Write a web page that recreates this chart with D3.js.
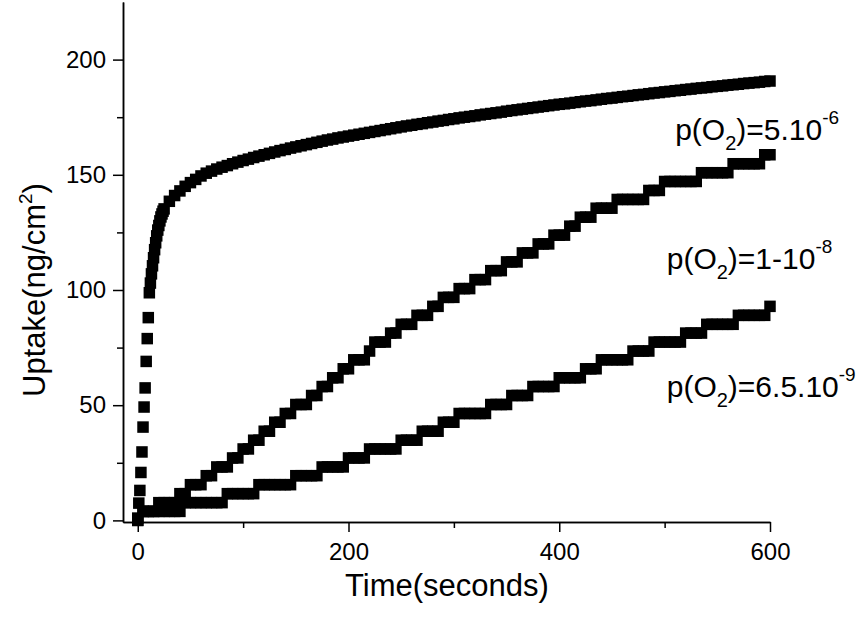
<!DOCTYPE html>
<html>
<head>
<meta charset="utf-8">
<script src="https://cdn.jsdelivr.net/npm/d3@7"></script>
<style>
  body { margin: 0; background: #fff; }
  svg { display: block; }
  text { font-family: "Liberation Sans", Arial, sans-serif; fill: #000; }
</style>
</head>
<body>
<div id="container"></div>
<script>
// time grid of the fast run (seconds)
const time1 = [0,1,2,3,4,5,6,7,8,9,10,11,12,13,14,15,16,17,18,19,20,21,22,23,24,
  25,30,35,40,45,50,55,60,65,70,75,80,85,90,95,100,105,110,115,120,125,130,135,140,145,
  150,155,160,165,170,175,180,185,190,195,200,205,210,215,220,225,230,235,240,245,
  250,255,260,265,270,275,280,285,290,295,300,305,310,315,320,325,330,335,340,345,
  350,355,360,365,370,375,380,385,390,395,400,405,410,415,420,425,430,435,440,445,
  450,455,460,465,470,475,480,485,490,495,500,505,510,515,520,525,530,535,540,545,
  550,555,560,565,570,575,580,585,590,595,600];

// p(O2)=5.10^-6
const uptake1 = [1,7.5,13,20.8,29.7,40.5,49.2,57.5,69,78.9,88,98.8,103,107,110.5,114,117.5,120.5,123.5,126,128,130,131.7,133,134.2,
  135.2,138.5,141,143,145,146.6,148,149.5,150.7,151.6,152.5,153.3,154,154.8,155.5,156.2,156.8,157.5,158.1,158.7,159.3,159.9,160.5,161,161.6,
  162.1,162.6,163.1,163.6,164.1,164.6,165.1,165.5,166,166.4,166.8,167.2,167.6,168,168.4,168.8,169.2,169.6,170,170.4,
  170.8,171.2,171.5,171.9,172.2,172.6,172.9,173.3,173.6,174,174.3,174.7,175,175.3,175.6,176,176.3,176.6,176.9,177.2,
  177.6,177.9,178.2,178.5,178.8,179.1,179.4,179.7,180,180.3,180.6,180.8,181.1,181.4,181.7,182,182.2,182.5,182.8,183.1,
  183.3,183.6,183.9,184.1,184.4,184.7,184.9,185.2,185.5,185.7,186,186.2,186.5,186.7,187,187.2,187.5,187.7,187.9,188.2,
  188.4,188.6,188.9,189.1,189.3,189.6,189.8,190,190.2,190.5,190.7];

// time grid of the two slow runs (seconds)
const time2 = [0,5,10,15,20,25,30,35,40,45,50,55,60,65,70,75,80,85,90,95,
  100,105,110,115,120,125,130,135,140,145,150,155,160,165,170,175,180,185,190,195,
  200,205,210,215,220,225,230,235,240,245,250,255,260,265,270,275,280,285,290,295,
  300,305,310,315,320,325,330,335,340,345,350,355,360,365,370,375,380,385,390,395,
  400,405,410,415,420,425,430,435,440,445,450,455,460,465,470,475,480,485,490,495,
  500,505,510,515,520,525,530,535,540,545,550,555,560,565,570,575,580,585,590,595,600];

// p(O2)=1-10^-8
const uptake2 = [0,3.9,3.9,3.9,7.7,7.7,7.7,7.7,11.6,11.6,
  15.5,15.5,15.5,19.4,19.4,23.2,23.2,23.2,27.1,27.1,
  31.0,31.0,34.8,34.8,38.7,38.7,42.6,42.6,46.4,46.4,
  50.3,50.3,50.3,54.2,54.2,58.1,58.1,61.9,61.9,65.8,
  65.8,69.7,69.7,69.7,73.5,77.4,77.4,77.4,81.3,81.3,
  85.1,85.1,85.1,89.0,89.0,89.0,92.9,92.9,96.8,96.8,
  96.8,100.6,100.6,100.6,104.5,104.5,104.5,108.4,108.4,108.4,
  112.2,112.2,112.2,116.1,116.1,116.1,120.0,120.0,120.0,123.8,
  123.8,123.8,127.7,127.7,131.6,131.6,131.6,135.5,135.5,135.5,
  135.5,139.3,139.3,139.3,139.3,139.3,139.3,143.2,143.2,143.2,
  147.1,147.1,147.1,147.1,147.1,147.1,147.1,150.9,150.9,150.9,
  150.9,150.9,150.9,154.8,154.8,154.8,154.8,154.8,154.8,158.7,
  158.7];

// p(O2)=6.5.10^-9
const uptake3 = [0,3.9,3.9,3.9,3.9,3.9,3.9,3.9,3.9,7.7,
  7.7,7.7,7.7,7.7,7.7,7.7,7.7,11.6,11.6,11.6,
  11.6,11.6,11.6,15.5,15.5,15.5,15.5,15.5,15.5,15.5,
  19.4,19.4,19.4,19.4,19.4,23.2,23.2,23.2,23.2,23.2,
  27.1,27.1,27.1,27.1,31.0,31.0,31.0,31.0,31.0,31.0,
  34.8,34.8,34.8,34.8,38.7,38.7,38.7,38.7,42.6,42.6,
  42.6,46.4,46.4,46.4,46.4,46.4,46.4,50.3,50.3,50.3,
  50.3,54.2,54.2,54.2,54.2,58.1,58.1,58.1,58.1,58.1,
  61.9,61.9,61.9,61.9,61.9,65.8,65.8,65.8,69.7,69.7,
  69.7,69.7,69.7,69.7,73.5,73.5,73.5,73.5,77.4,77.4,
  77.4,77.4,77.4,77.4,81.3,81.3,81.3,81.3,85.1,85.1,
  85.1,85.1,85.1,85.1,89.0,89.0,89.0,89.0,89.0,89.0,
  92.9];

const xMajor = [0, 200, 400, 600];
const xMinor = [100, 300, 500];
const yMajor = [0, 50, 100, 150, 200];
const yMinor = [25, 75, 125, 175];

// label pieces: main text, subscript, main text, superscript
const labelParts = [
  ["p(O", "2", ")=5.10", "-6"],
  ["p(O", "2", ")=1-10", "-8"],
  ["p(O", "2", ")=6.5.10", "-9"]
];
// where each label sits (seconds, uptake at baseline)
const labelAt = [[510, 165], [502, 109], [502, 53.5]];

let w = 868;
let h = 618;

let viz = d3.select("#container")
  .append("svg")
  .attr("width", w)
  .attr("height", h);

let x = d3.scaleLinear().domain([-14, 600]).range([123, 770]);
let y = d3.scaleLinear().domain([-0.7, 225]).range([522, 2]);

let series = [
  time1.map((t, i) => [t, uptake1[i]]),
  time2.map((t, i) => [t, uptake2[i]]),
  time2.map((t, i) => [t, uptake3[i]])
];

// markers: filled squares
let sq = 11.5;
series.forEach(function(pts) {
  viz.append("g")
    .selectAll("rect")
    .data(pts)
    .enter()
    .append("rect")
    .attr("x", d => x(d[0]) - sq / 2)
    .attr("y", d => y(d[1]) - sq / 2)
    .attr("width", sq)
    .attr("height", sq)
    .attr("fill", "#000");
});

// axes
function styleAxis(g) {
  g.selectAll("path, line").attr("stroke", "#000").attr("stroke-width", 1.5);
  g.selectAll("text").attr("font-size", 24).attr("fill", "#000")
    .attr("font-family", '"Liberation Sans", Arial, sans-serif');
}

viz.append("g")
  .attr("transform", "translate(0,522)")
  .call(d3.axisBottom(x).tickValues(xMajor).tickSize(10).tickSizeOuter(0).tickPadding(11))
  .call(styleAxis);

viz.append("g")
  .attr("transform", "translate(0,522)")
  .call(d3.axisBottom(x).tickValues(xMinor).tickSize(6).tickSizeOuter(0).tickFormat(""))
  .call(styleAxis);

viz.append("g")
  .attr("transform", "translate(123,0)")
  .call(d3.axisLeft(y).tickValues(yMajor).tickSize(10).tickSizeOuter(0).tickPadding(7))
  .call(styleAxis);

viz.append("g")
  .attr("transform", "translate(123,0)")
  .call(d3.axisLeft(y).tickValues(yMinor).tickSize(6).tickSizeOuter(0).tickFormat(""))
  .call(styleAxis);

// axis titles
viz.append("text")
  .attr("x", 447)
  .attr("y", 596)
  .attr("text-anchor", "middle")
  .attr("font-size", 31)
  .text("Time(seconds)");

let yt = viz.append("text")
  .attr("transform", "translate(45,290) rotate(-90)")
  .attr("text-anchor", "middle")
  .attr("font-size", 31);
yt.append("tspan").text("Uptake(ng/cm");
yt.append("tspan").attr("font-size", 19).attr("dy", -13).text("2");
yt.append("tspan").attr("dy", 13).text(")");

// curve labels
labelParts.forEach(function(p, i) {
  let t = viz.append("text")
    .attr("x", x(labelAt[i][0]))
    .attr("y", y(labelAt[i][1]))
    .attr("font-size", 30);
  t.append("tspan").text(p[0]);
  t.append("tspan").attr("font-size", 20).attr("dy", 10).text(p[1]);
  t.append("tspan").attr("dy", -10).text(p[2]);
  t.append("tspan").attr("font-size", 19).attr("dy", -16).text(p[3]);
});
</script>
</body>
</html>
